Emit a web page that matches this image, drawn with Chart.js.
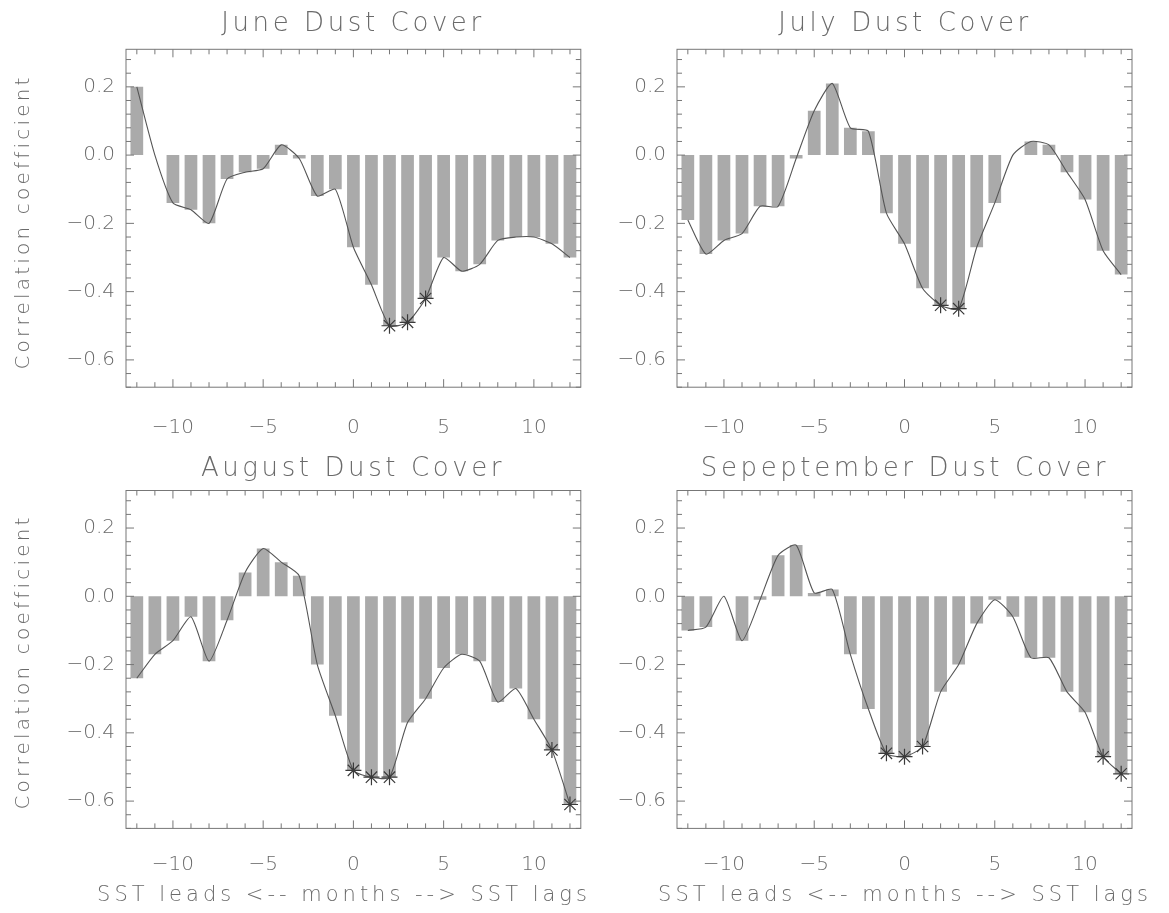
<!DOCTYPE html>
<html>
<head>
<meta charset="utf-8">
<script src="https://cdn.jsdelivr.net/npm/chart.js@4.4.1/dist/chart.umd.min.js"></script>
<style>
  body { margin: 0; background: #fff; width: 1169px; height: 913px; position: relative; overflow: hidden;
         font-family: "DejaVu Sans", sans-serif; font-weight: 200; color: #6a6a6a; }
  canvas { position: absolute; }
  .txt { position: absolute; white-space: nowrap; transform: translate(-50%, -50%); line-height: 1; }
  .ptitle { font-size: 26px; letter-spacing: 3.6px; }
  .xtitle { font-size: 21px; letter-spacing: 4px; }
  .ytitle { font-size: 20px; letter-spacing: 3.2px; transform: translate(-50%, -50%) rotate(-90deg); }
</style>
</head>
<body>
<canvas id="june" width="590" height="450" style="left:0;top:0"></canvas>
<canvas id="july" width="579" height="450" style="left:590px;top:0"></canvas>
<canvas id="august" width="590" height="463" style="left:0;top:450px"></canvas>
<canvas id="september" width="579" height="463" style="left:590px;top:450px"></canvas>

<div class="txt ptitle" style="left:353px;top:22px">June Dust Cover</div>
<div class="txt ptitle" style="left:905px;top:22px">July Dust Cover</div>
<div class="txt ptitle" style="left:353px;top:467px">August Dust Cover</div>
<div class="txt ptitle" style="left:905px;top:467px">Sepeptember Dust Cover</div>
<div class="txt ytitle" style="left:22px;top:222px">Correlation coefficient</div>
<div class="txt ytitle" style="left:22px;top:662px">Correlation coefficient</div>
<div class="txt xtitle" style="left:344px;top:894px">SST leads &lt;-- months --&gt; SST lags</div>
<div class="txt xtitle" style="left:905px;top:894px">SST leads &lt;-- months --&gt; SST lags</div>

<script>
// lag in months (negative = SST leads)
const lags = [-12, -11, -10, -9, -8, -7, -6, -5, -4, -3, -2, -1, 0, 1, 2, 3, 4, 5, 6, 7, 8, 9, 10, 11, 12];

// correlation coefficients
const juneValues = [0.20, 0.00, -0.14, -0.16, -0.20, -0.07, -0.05, -0.04, 0.03, -0.01, -0.12, -0.10, -0.27,
  -0.38, -0.50, -0.49, -0.42, -0.30, -0.34, -0.32, -0.25, -0.24, -0.24, -0.26, -0.30];
const julyValues = [-0.19, -0.29, -0.25, -0.23, -0.15, -0.15, -0.01, 0.13, 0.21, 0.08, 0.07, -0.17, -0.26,
  -0.39, -0.44, -0.45, -0.27, -0.14, 0.00, 0.04, 0.03, -0.05, -0.13, -0.28, -0.35];
const augustValues = [-0.24, -0.17, -0.13, -0.06, -0.19, -0.07, 0.07, 0.14, 0.10, 0.06, -0.20, -0.35, -0.51,
  -0.53, -0.53, -0.37, -0.30, -0.21, -0.17, -0.19, -0.31, -0.27, -0.36, -0.45, -0.61];
const septemberValues = [-0.10, -0.09, 0.00, -0.13, -0.01, 0.12, 0.15, 0.01, 0.02, -0.17, -0.33, -0.46, -0.47,
  -0.44, -0.28, -0.20, -0.08, -0.01, -0.06, -0.18, -0.18, -0.28, -0.34, -0.47, -0.52];

// lags marked with an asterisk (significant)
const juneStars = [2, 3, 4];
const julyStars = [2, 3];
const augustStars = [0, 1, 2, 11, 12];
const septemberStars = [-1, 0, 1, 11, 12];

// tick labels
const xTickLabels = [-10, -5, 0, 5, 10];
const yTickLabels = [-0.6, -0.4, -0.2, 0.0, 0.2];

const tickFont = { family: "DejaVu Sans", size: 20, weight: 200 };
const textColor = "#6a6a6a";

// draws the box with inward ticks on all four sides (idl style)
const frameTicks = {
  id: "frameTicks",
  afterDatasetsDraw(chart) {
    const { ctx, chartArea: a, scales } = chart;
    ctx.save();
    ctx.strokeStyle = "#777";
    ctx.lineWidth = 1;
    ctx.strokeRect(a.left, a.top, a.right - a.left, a.bottom - a.top);
    ctx.beginPath();
    for (let v = -12; v <= 12; v++) {
      const px = scales.x.getPixelForValue(v);
      const len = v % 5 == 0 ? 8 : 5;
      ctx.moveTo(px, a.bottom);
      ctx.lineTo(px, a.bottom - len);
      ctx.moveTo(px, a.top);
      ctx.lineTo(px, a.top + len);
    }
    for (let k = -17; k <= 7; k++) {
      const py = scales.y.getPixelForValue(k * 0.04);
      const len = k % 5 == 0 ? 8 : 5;
      ctx.moveTo(a.left, py);
      ctx.lineTo(a.left + len, py);
      ctx.moveTo(a.right, py);
      ctx.lineTo(a.right - len, py);
    }
    ctx.stroke();
    ctx.restore();
  },
};

function makePanel(id, values, stars, yWidth, padRight, padTop, xHeight, labelPad) {
  const points = lags.map((lag, i) => ({ x: lag, y: values[i] }));
  const starPoints = stars.map((lag) => ({ x: lag, y: values[lags.indexOf(lag)] }));
  return new Chart(document.getElementById(id), {
    type: "bar",
    data: {
      datasets: [
        {
          type: "scatter",
          data: starPoints,
          pointStyle: "star",
          radius: 8,
          borderColor: "#3a3a3a",
          borderWidth: 1.2,
          order: 1,
        },
        {
          type: "line",
          data: points,
          borderColor: "#555",
          borderWidth: 1.1,
          pointRadius: 0,
          tension: 0.2,
          order: 2,
        },
        {
          data: points,
          backgroundColor: "#aaaaaa",
          barPercentage: 0.88,
          categoryPercentage: 0.8,
          order: 3,
        },
      ],
    },
    options: {
      responsive: false,
      animation: false,
      devicePixelRatio: 1,
      layout: { padding: { top: padTop, right: padRight, bottom: 0, left: 0 } },
      plugins: { legend: { display: false }, tooltip: { enabled: false } },
      scales: {
        x: {
          type: "linear",
          min: -12.6,
          max: 12.6,
          offset: false,
          grid: { display: false, drawTicks: false },
          border: { display: false },
          afterBuildTicks: (s) => { s.ticks = xTickLabels.map((v) => ({ value: v })); },
          afterFit: (s) => { s.height = xHeight; },
          ticks: {
            padding: labelPad,
            font: tickFont,
            color: textColor,
            maxRotation: 0,
            autoSkip: false,
            callback: (v) => String(v).replace("-", "\u2212"),
          },
        },
        y: {
          min: -0.68,
          max: 0.31,
          grid: { display: false, drawTicks: false },
          border: { display: false },
          afterBuildTicks: (s) => { s.ticks = yTickLabels.map((v) => ({ value: v })); },
          afterFit: (s) => { s.width = yWidth; },
          ticks: {
            padding: 11,
            font: tickFont,
            color: textColor,
            autoSkip: false,
            callback: (v) => (v < 0 ? "\u2212" : "") + Math.abs(v).toFixed(1),
          },
        },
      },
    },
    plugins: [frameTicks],
  });
}

makePanel("june", juneValues, juneStars, 126, 9, 49.3, 62.8, 29);
makePanel("july", julyValues, julyStars, 87, 37, 49.3, 62.8, 29);
makePanel("august", augustValues, augustStars, 126, 9, 40.5, 84.6, 24);
makePanel("september", septemberValues, septemberStars, 87, 37, 40.5, 84.6, 24);
</script>
</body>
</html>
